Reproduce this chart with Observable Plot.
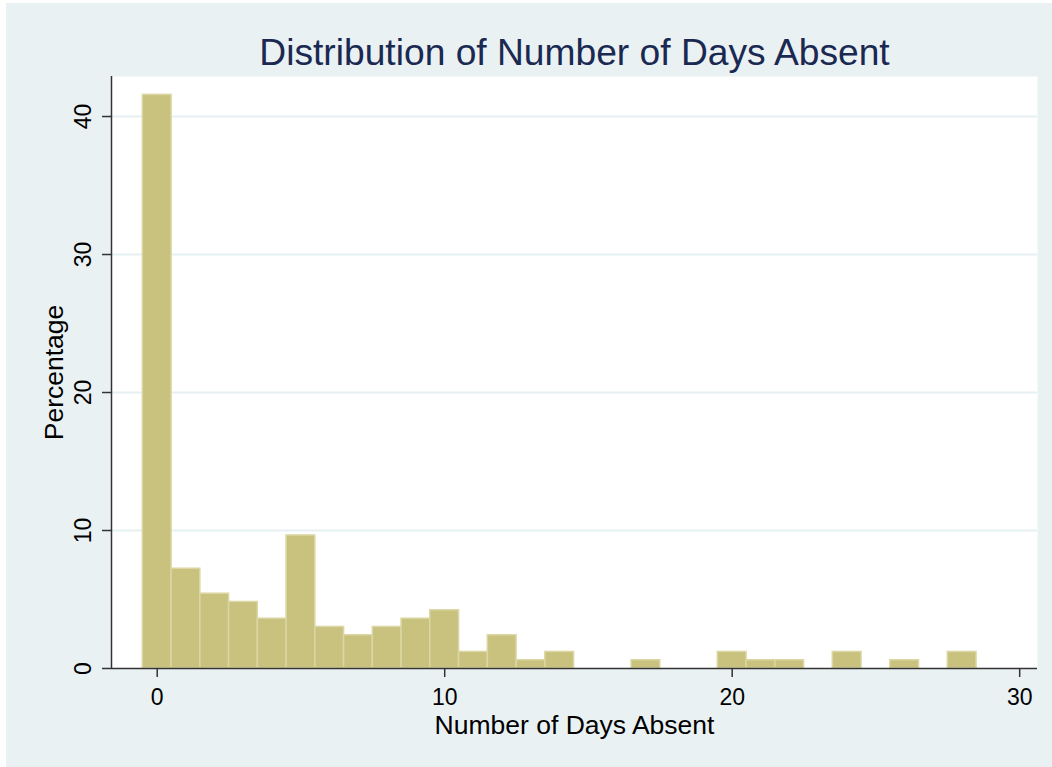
<!DOCTYPE html>
<html>
<head>
<meta charset="utf-8">
<script src="https://cdn.jsdelivr.net/npm/d3@7"></script>
<script src="https://cdn.jsdelivr.net/npm/@observablehq/plot@0.6"></script>
<style>
  html, body { margin: 0; padding: 0; background: #ffffff; }
  #wrap { padding: 3px 0 0 6px; width: 1046px; height: 764px; }
  #wrap svg { display: block; background: #eaf1f3; }
</style>
</head>
<body>
<div id="wrap"></div>
<script>
// Days absent (bin centres, width 1) and percentage of students in each bin
const days    = [0, 1, 2, 3, 4, 5, 6, 7, 8, 9, 10, 11, 12, 13, 14, 17, 20, 21, 22, 24, 26, 28];
const percent = [41.57, 7.23, 5.42, 4.82, 3.61, 9.64, 3.01, 2.41, 3.01, 3.61, 4.22, 1.20, 2.41, 0.60, 1.20, 0.60, 1.20, 0.60, 0.60, 1.20, 0.60, 1.20];
const xTicks = [0, 10, 20, 30];
const yTicks = [0, 10, 20, 30, 40];
const xDomain = [-1.59, 30.62];
const yDomain = [0, 42.9];
const title = "Distribution of Number of Days Absent";
const xLabel = "Number of Days Absent";
const yLabel = "Percentage";

const data = days.map((d, i) => ({days: d, pct: percent[i]}));

const font = "'Liberation Sans', Arial, Helvetica, sans-serif";
const barFill = "#c9c27f";
const barStroke = "#dbd6a4";
const gridColor = "#e6eff1";
const axisColor = "#333333";

const chart = Plot.plot({
  width: 1046,
  height: 764,
  marginLeft: 105,
  marginTop: 73,
  marginRight: 15,
  marginBottom: 99,
  style: {fontFamily: font, background: "#eaf1f3", color: "#000"},
  x: {domain: xDomain, axis: null},
  y: {domain: yDomain, axis: null},
  marks: [
    Plot.frame({fill: "white", stroke: "none"}),
    Plot.gridY(yTicks.filter(t => t !== 0), {stroke: gridColor, strokeOpacity: 1, strokeWidth: 2}),
    Plot.rectY(data, {x1: d => d.days - 0.5, x2: d => d.days + 0.5, y: "pct", fill: barFill, stroke: barStroke, strokeWidth: 1.5}),
    Plot.ruleY([yDomain[0]], {stroke: axisColor, strokeWidth: 1.5}),
    Plot.ruleX([xDomain[0]], {stroke: axisColor, strokeWidth: 1.5}),
    Plot.axisX({ticks: xTicks, tickSize: 9, tickPadding: 11, fontSize: 23, stroke: axisColor, strokeWidth: 1.5, label: null, fill: "#000"}),
    Plot.axisY({ticks: yTicks, tickSize: 9, tickFormat: () => "", stroke: axisColor, strokeWidth: 1.5, label: null}),
    Plot.text(yTicks, {y: d => d, text: d => String(d), frameAnchor: "left", rotate: -90, dx: -21, lineAnchor: "bottom", textAnchor: "middle", fontSize: 23, fill: "#000"}),
    Plot.text([yLabel], {text: d => d, frameAnchor: "left", rotate: -90, dx: -49, lineAnchor: "bottom", textAnchor: "middle", fontSize: 26.5, fill: "#000"}),
    Plot.text([xLabel], {text: d => d, frameAnchor: "bottom", dy: 65, lineAnchor: "bottom", textAnchor: "middle", fontSize: 26.5, fill: "#000"}),
    Plot.text([title], {text: d => d, frameAnchor: "top", dy: -12, lineAnchor: "bottom", textAnchor: "middle", fontSize: 37.2, fill: "#1a2952"})
  ]
});
document.getElementById("wrap").appendChild(chart);
</script>
</body>
</html>
